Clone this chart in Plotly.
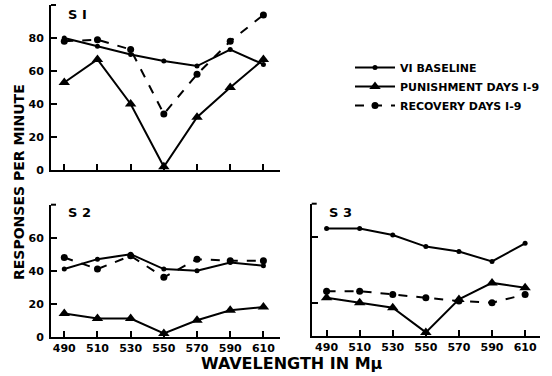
import plotly.graph_objects as go

wavelengths = [490, 510, 530, 550, 570, 590, 610]
tick_labels = ["490", "510", "530", "550", "570", "590", "610"]

s1_baseline = [80, 75, 70, 66, 63, 73, 64]
s1_punish = [53, 67, 40, 2, 32, 50, 67]
s1_recovery = [78, 79, 73, 34, 58, 78, 94]

s2_baseline = [41, 47, 50, 41, 40, 45, 43]
s2_punish = [14, 11, 11, 2, 10, 16, 18]
s2_recovery = [48, 41, 49, 36, 47, 46, 46]

s3_baseline = [65, 65, 61, 54, 51, 45, 56]
s3_punish = [23, 20, 17, 2, 22, 32, 29]
s3_recovery = [27, 27, 25, 23, 21, 20, 25]

series_names = ["VI BASELINE", "PUNISHMENT DAYS I-9", "RECOVERY DAYS I-9"]

W, H = 552, 376
FONT = "DejaVu Sans"

def px_x(p):
    return p / W

def px_y(p):
    return (H - p) / H

fig = go.Figure()

styles = [
    dict(mode="lines+markers", line=dict(color="black", width=2),
         marker=dict(symbol="circle", size=5, color="black")),
    dict(mode="lines+markers", line=dict(color="black", width=2),
         marker=dict(symbol="triangle-up", size=10, color="black")),
    dict(mode="lines+markers", line=dict(color="black", width=2, dash="dash"),
         marker=dict(symbol="circle", size=7, color="black")),
]

panels = [
    ("x", "y", [s1_baseline, s1_punish, s1_recovery]),
    ("x2", "y2", [s2_baseline, s2_punish, s2_recovery]),
    ("x3", "y3", [s3_baseline, s3_punish, s3_recovery]),
]

for pi, (xa, ya, data) in enumerate(panels):
    for si, vals in enumerate(data):
        fig.add_trace(go.Scatter(
            x=wavelengths, y=vals, xaxis=xa, yaxis=ya,
            name=series_names[si], showlegend=(pi == 0),
            cliponaxis=False, **styles[si]))

axis_common = dict(showline=True, linecolor="black", linewidth=2, showgrid=False,
                   zeroline=False, ticks="inside", tickcolor="black", tickwidth=2,
                   ticklen=6, automargin=False,
                   tickfont=dict(family=FONT, size=11, color="black", weight="bold"))

xcommon = dict(axis_common, tickvals=wavelengths, ticktext=tick_labels)
ycommon = dict(axis_common, ticklabelstandoff=3)

XL = 51

fig.update_layout(
    template="none",
    width=W, height=H, margin=dict(l=0, r=0, t=0, b=0),
    paper_bgcolor="white", plot_bgcolor="white",
    xaxis=dict(xcommon, domain=[px_x(XL), px_x(280)], range=[482, 620],
               anchor="y", showticklabels=False),
    yaxis=dict(ycommon, domain=[px_y(170), px_y(5)], range=[0, 100],
               anchor="x", tickvals=[0, 20, 40, 60, 80]),
    xaxis2=dict(xcommon, domain=[px_x(XL), px_x(280)], range=[482, 620],
                anchor="y2"),
    yaxis2=dict(ycommon, domain=[px_y(336.7), px_y(204.7)], range=[0, 80],
                anchor="x2", tickvals=[0, 20, 40, 60]),
    xaxis3=dict(xcommon, domain=[px_x(311.7), px_x(540)], range=[481, 619],
                anchor="y3"),
    yaxis3=dict(ycommon, domain=[px_y(335.7), px_y(203.7)], range=[0, 80],
                anchor="x3", tickvals=[20, 60], showticklabels=False),
    legend=dict(x=px_x(350), y=px_y(53), xanchor="left", yanchor="top",
                font=dict(family=FONT, size=11, color="black", weight="bold"),
                itemwidth=40, tracegroupgap=0, bgcolor="rgba(0,0,0,0)"),
    showlegend=True,
)

annots = [
    dict(text="S I", x=px_x(66), y=px_y(15), xanchor="left", yanchor="middle", size=13),
    dict(text="S 2", x=px_x(66), y=px_y(213), xanchor="left", yanchor="middle", size=13),
    dict(text="S 3", x=px_x(327), y=px_y(213), xanchor="left", yanchor="middle", size=13),
    dict(text="WAVELENGTH IN Mμ", x=px_x(292), y=px_y(363), xanchor="center", yanchor="middle", size=16),
]
for a in annots:
    fig.add_annotation(text=a["text"], x=a["x"], y=a["y"], xref="paper", yref="paper",
                       xanchor=a["xanchor"], yanchor=a["yanchor"], showarrow=False,
                       font=dict(family=FONT, size=a["size"], color="black", weight="bold"))
fig.add_annotation(text="RESPONSES PER MINUTE", x=px_x(19), y=px_y(182), xref="paper",
                   yref="paper", xanchor="center", yanchor="middle", textangle=-90,
                   showarrow=False,
                   font=dict(family=FONT, size=14, color="black", weight="bold"))

# small bracket marks at the top of each y axis
for (x0, y0) in [(XL, 5), (XL, 204.7), (311.7, 203.7)]:
    fig.add_shape(type="line", xref="paper", yref="paper",
                  x0=px_x(x0), x1=px_x(x0 + 5), y0=px_y(y0), y1=px_y(y0),
                  line=dict(color="black", width=2))

fig.write_html("out.html", config={"displayModeBar": False},
               post_script="document.body.style.margin='0';document.body.style.padding='0';")
